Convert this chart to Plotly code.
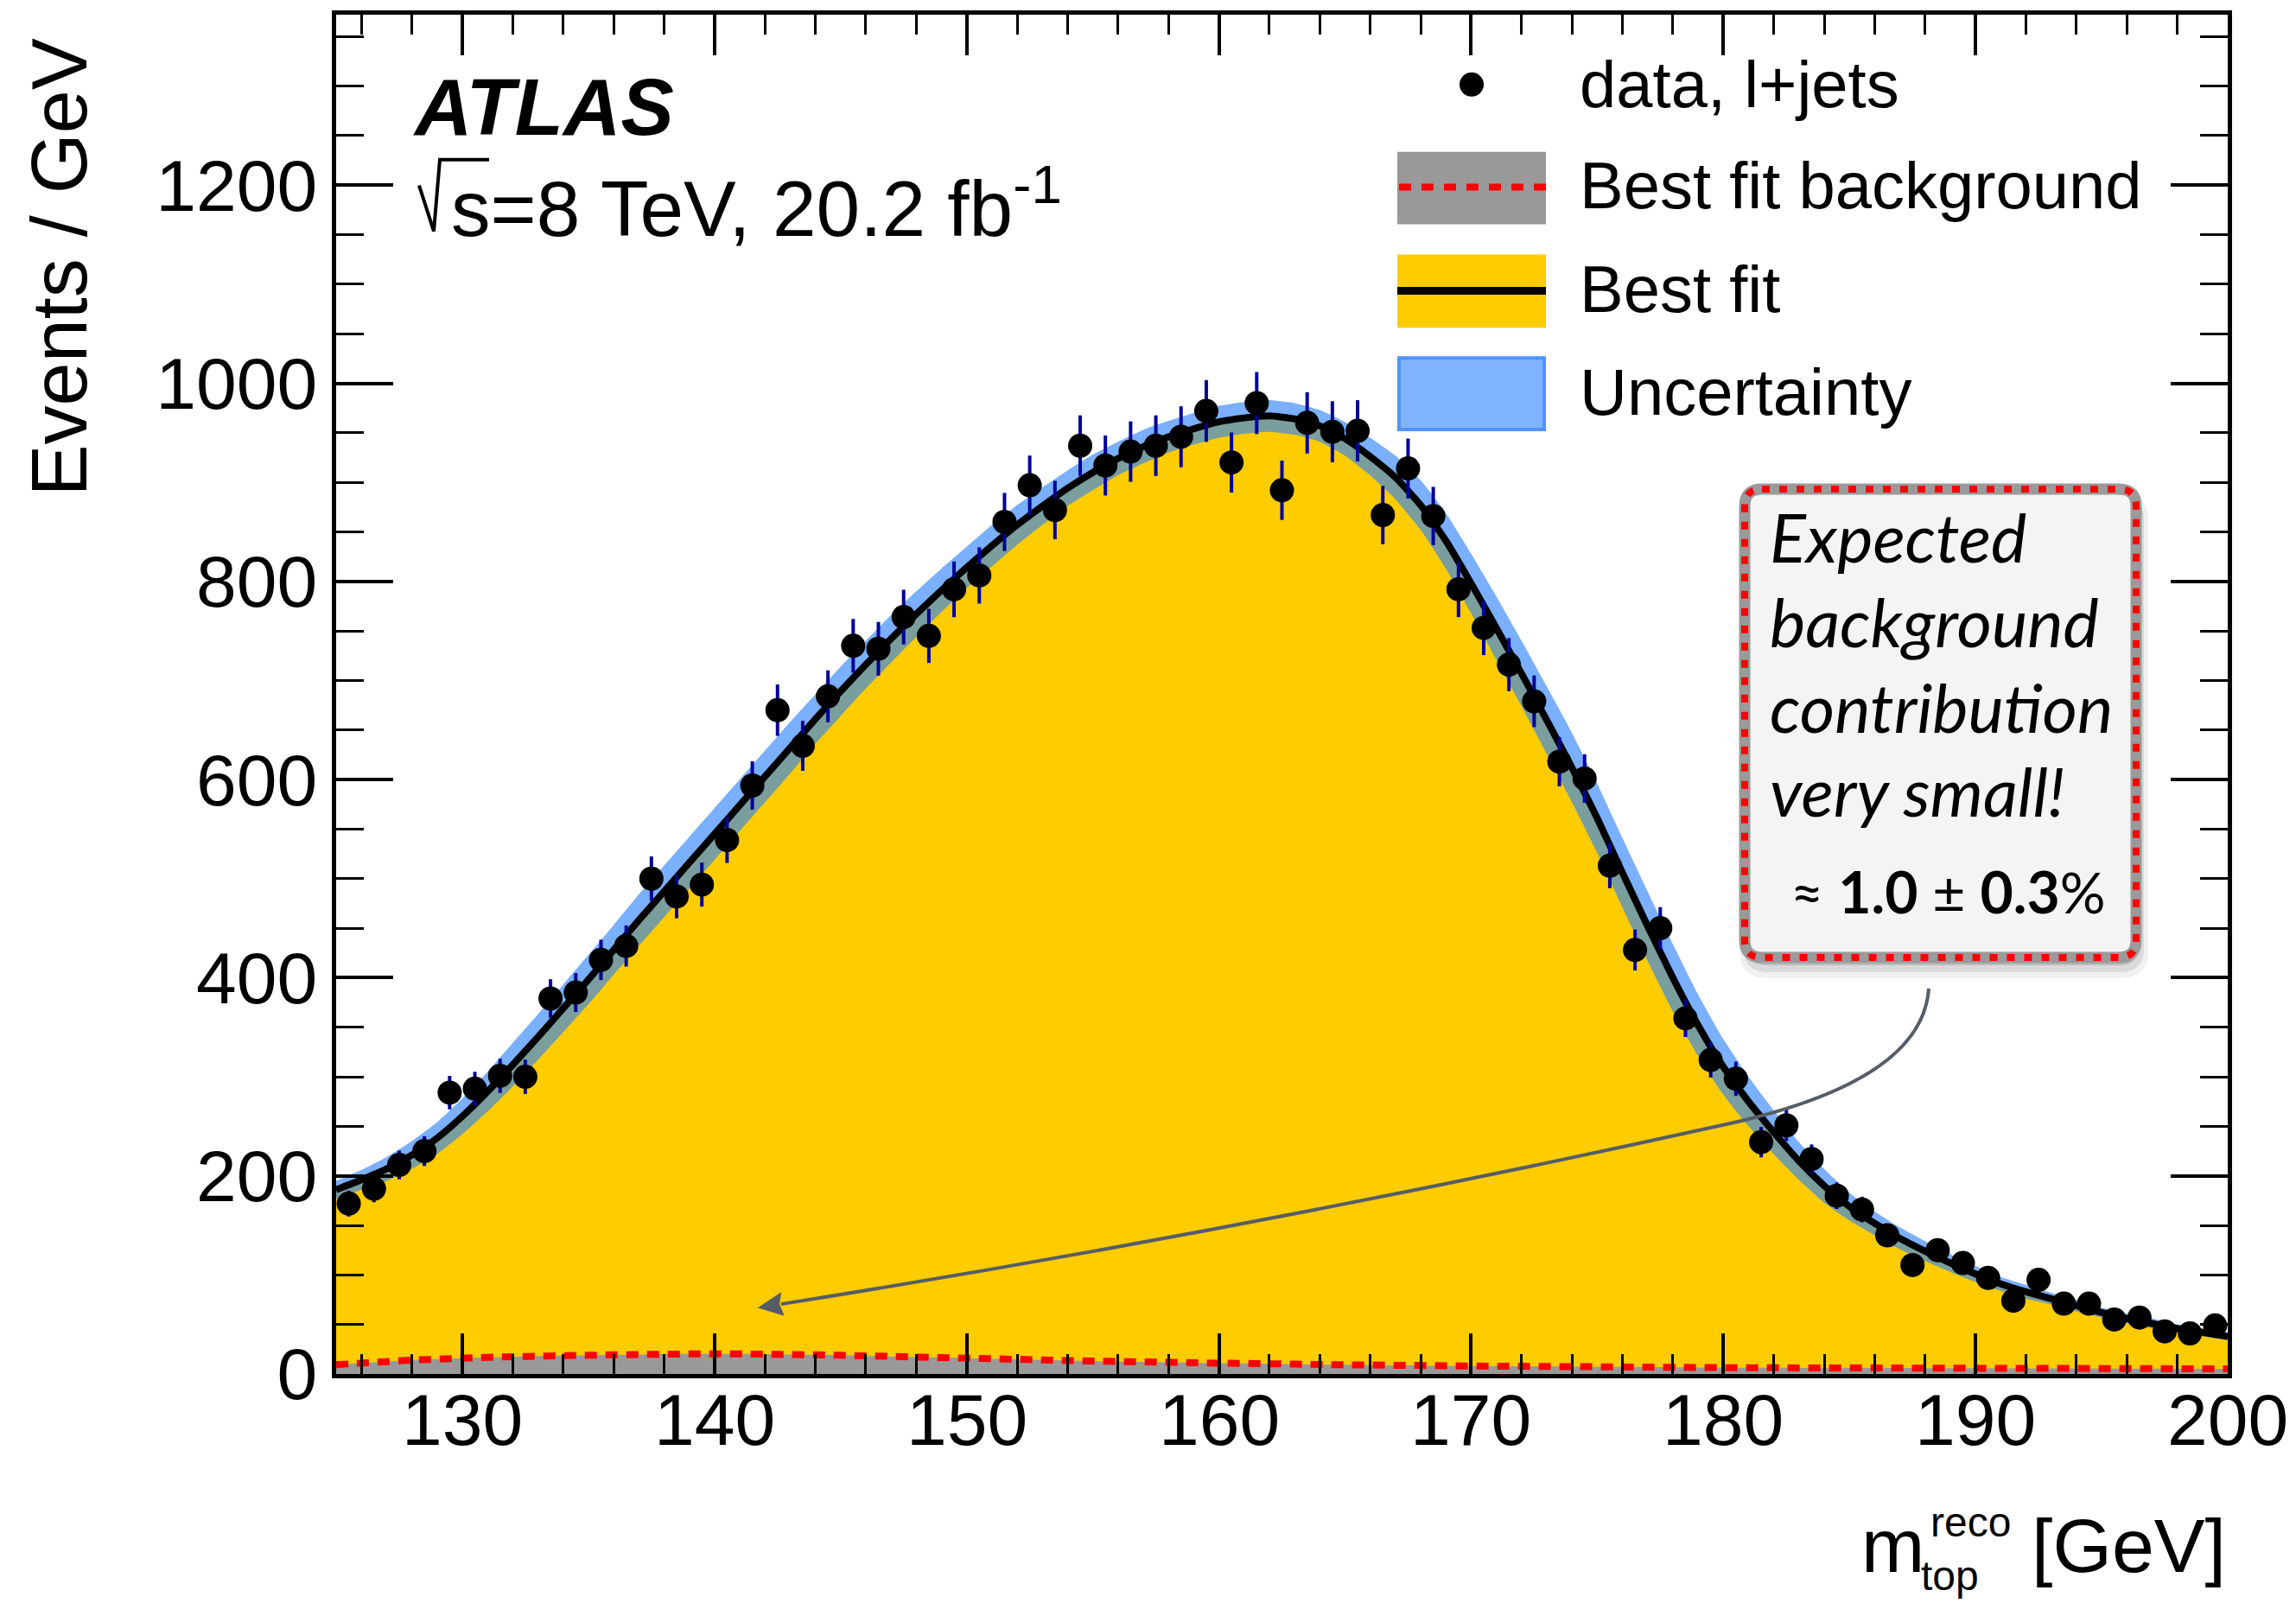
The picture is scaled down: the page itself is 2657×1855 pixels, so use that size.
import plotly.graph_objects as go

# ---------------------------------------------------------------- data
# reconstructed top-quark mass, 1 GeV bins from 125 to 200 GeV
bin_low = 125.0
bin_width = 1.0
data_counts = [172, 187, 211, 225, 284, 288, 301, 300, 379, 385,
               418, 432, 500, 482, 494, 539, 594, 670, 634, 684,
               735, 732, 764, 745, 792, 806, 860, 897, 872, 937,
               917, 931, 937, 946, 972, 920, 980, 892, 960, 951,
               952, 867, 914, 866, 792, 753, 716, 679, 618, 601,
               513, 428, 450, 359, 317, 298, 234, 251, 217, 180,
               166, 140, 110, 125, 112, 97, 74, 95, 71, 71,
               55, 57, 43, 41, 49]
data_errors = [13.1, 13.7, 14.5, 15.0, 16.9, 17.0, 17.3, 17.3, 19.5, 19.6,
               20.4, 20.8, 22.4, 22.0, 22.2, 23.2, 24.4, 25.9, 25.2, 26.2,
               27.1, 27.1, 27.6, 27.3, 28.1, 28.4, 29.3, 30.0, 29.5, 30.6,
               30.3, 30.5, 30.6, 30.8, 31.2, 30.3, 31.3, 29.9, 31.0, 30.8,
               30.9, 29.4, 30.2, 29.4, 28.1, 27.4, 26.8, 26.1, 24.9, 24.5,
               22.6, 20.7, 21.2, 18.9, 17.8, 17.3, 15.3, 15.8, 14.7, 13.4,
               12.9, 11.8, 10.5, 11.2, 10.6, 9.8, 8.6, 9.7, 8.4, 8.4,
               7.4, 7.5, 6.6, 6.4, 7.0]

# best-fit template (signal + background), sampled every GeV
fit_mass = list(range(125, 201))
fit_total = [186, 196, 207, 221, 238, 260, 285, 312, 340, 369,
             398, 428, 458, 487, 516, 545, 574, 603, 632, 661,
             689, 716, 742, 767, 791, 814, 836, 857, 876, 894,
             910, 924, 936, 946, 954, 961, 965, 967, 964, 957,
             944, 926, 905, 877, 841, 798, 753, 707, 660, 612,
             561, 506, 452, 400, 352, 310, 275, 244, 215, 190,
             169, 152, 137, 124, 112, 101, 91, 83, 76, 69,
             62, 56, 51, 46, 42, 38]
fit_uncertainty = [9, 10, 12, 14, 16, 18, 20, 22, 23, 24,
                   25, 25, 26, 26, 26, 26, 26, 26, 26, 25,
                   25, 24, 24, 23, 22, 21, 21, 20, 19, 18,
                   18, 17, 17, 16, 16, 16, 16, 16, 16, 16,
                   17, 19, 22, 25, 28, 30, 32, 33, 34, 35,
                   35, 35, 35, 34, 31, 28, 25, 22, 19, 17,
                   14, 12, 11, 10, 9, 8, 7, 7, 6, 6,
                   5, 5, 5, 4, 4, 4]
fit_background = [9.3, 11.0, 12.5, 14.0, 15.0, 16.0, 16.8, 17.5, 18.0, 18.5,
                  18.9, 19.3, 19.7, 20.0, 20.2, 20.3, 20.2, 20.0, 19.6, 19.3,
                  18.9, 18.3, 17.7, 17.1, 16.5, 16.0, 15.4, 14.8, 14.2, 13.6,
                  13.0, 12.6, 12.2, 11.8, 11.4, 11.0, 10.7, 10.3, 10.0, 9.6,
                  9.3, 9.1, 8.8, 8.6, 8.3, 8.1, 7.9, 7.8, 7.6, 7.4,
                  7.3, 7.1, 6.9, 6.8, 6.6, 6.4, 6.3, 6.3, 6.2, 6.2,
                  6.1, 6.0, 6.0, 5.9, 5.9, 5.8, 5.7, 5.7, 5.6, 5.6,
                  5.5, 5.4, 5.4, 5.3, 5.3, 5.2]

x_ticks = [130, 140, 150, 160, 170, 180, 190, 200]
y_ticks = [0, 200, 400, 600, 800, 1000, 1200]

bin_centers = [bin_low + bin_width * (i + 0.5) for i in range(len(data_counts))]
band_upper = [f + u for f, u in zip(fit_total, fit_uncertainty)]
band_lower = [f - u for f, u in zip(fit_total, fit_uncertainty)]

# ---------------------------------------------------------------- geometry
FIG_W, FIG_H = 2657, 1855
L, R, T, B = 389, 2578, 14, 1590
PW, PH = R - L, B - T

HELV = "Liberation Sans"
AVENIR = "Lato"


def P(x, y):
    """pixel position -> paper coordinates for shape paths"""
    return f"{(x - L) / PW:.5f},{(B - y) / PH:.5f}"


def px(x):
    return (x - L) / PW


def py(y):
    return (B - y) / PH


def label(x, y, text, size, anchor="left", family=HELV, color="black", angle=0):
    return dict(x=px(x), y=py(y), xref="paper", yref="paper", text=text,
                showarrow=False, xanchor=anchor, yanchor="middle",
                textangle=angle, font=dict(family=family, size=size, color=color))


def rect(x0, y0, x1, y1, **kw):
    return dict(type="rect", xref="paper", yref="paper",
                x0=px(x0), x1=px(x1), y0=py(y1), y1=py(y0), layer="above", **kw)


def rounded(x0, y0, x1, y1, r):
    return (f"M {P(x0 + r, y0)} L {P(x1 - r, y0)} Q {P(x1, y0)} {P(x1, y0 + r)} "
            f"L {P(x1, y1 - r)} Q {P(x1, y1)} {P(x1 - r, y1)} "
            f"L {P(x0 + r, y1)} Q {P(x0, y1)} {P(x0, y1 - r)} "
            f"L {P(x0, y0 + r)} Q {P(x0, y0)} {P(x0 + r, y0)} Z")


# ---------------------------------------------------------------- traces
fig = go.Figure()

fig.add_trace(go.Scatter(
    x=fit_mass, y=fit_total, mode="lines",
    line=dict(width=0, shape="spline", smoothing=0.5),
    fill="tozeroy", fillcolor="#ffcc00", hoverinfo="skip", showlegend=False))

fig.add_trace(go.Scatter(
    x=fit_mass, y=fit_background, mode="lines",
    line=dict(width=0, shape="spline"),
    fill="tozeroy", fillcolor="#999999", hoverinfo="skip", showlegend=False))

fig.add_trace(go.Scatter(
    x=fit_mass, y=fit_background, mode="lines",
    line=dict(width=8, color="#ff0000", dash="14px,10px", shape="spline"),
    hoverinfo="skip", showlegend=False))

fig.add_trace(go.Scatter(
    x=fit_mass, y=band_upper, mode="lines",
    line=dict(width=0, shape="spline", smoothing=0.5),
    hoverinfo="skip", showlegend=False))
fig.add_trace(go.Scatter(
    x=fit_mass, y=band_lower, mode="lines",
    line=dict(width=0, shape="spline", smoothing=0.5),
    fill="tonexty", fillcolor="rgba(41,128,255,0.62)",
    hoverinfo="skip", showlegend=False))

fig.add_trace(go.Scatter(
    x=fit_mass, y=fit_total, mode="lines",
    line=dict(width=8, color="black", shape="spline", smoothing=0.5),
    hoverinfo="skip", showlegend=False))

fig.add_trace(go.Scatter(
    x=bin_centers, y=data_counts, mode="markers",
    marker=dict(size=28, color="black"),
    error_y=dict(type="data", array=data_errors, visible=True,
                 color="#000099", thickness=4, width=0),
    showlegend=False))

# ---------------------------------------------------------------- decorations
shapes = []

# legend swatches
shapes.append(dict(type="circle", xref="paper", yref="paper",
                   x0=px(1689), x1=px(1717), y0=py(109), y1=py(81),
                   fillcolor="black", line=dict(width=0), layer="above"))
shapes.append(rect(1617, 173, 1789, 257, fillcolor="#999999", line=dict(width=0)))
shapes.append(dict(type="line", xref="paper", yref="paper",
                   x0=px(1619), x1=px(1789), y0=py(214), y1=py(214),
                   line=dict(color="#ff0000", width=8, dash="14px,12px"), layer="above"))
shapes.append(rect(1617, 292, 1789, 377, fillcolor="#ffcc00", line=dict(width=0)))
shapes.append(dict(type="line", xref="paper", yref="paper",
                   x0=px(1617), x1=px(1789), y0=py(334), y1=py(334),
                   line=dict(color="black", width=9), layer="above"))
shapes.append(rect(1619, 412, 1787, 495, fillcolor="#80b3ff",
                   line=dict(color="#4d94ff", width=4)))

# radical sign of sqrt(s)
shapes.append(dict(type="path", xref="paper", yref="paper",
                   path=f"M {P(485, 212)} L {P(502, 265)} L {P(509, 182)} L {P(566, 182)}",
                   line=dict(color="black", width=4), layer="above"))

# callout box: soft shadow, grey frame with red dashes
for dx, dy, grow, alpha in [(4, 14, 10, 0.06), (4, 12, 5, 0.09), (3, 9, 0, 0.14)]:
    shapes.append(dict(type="path", xref="paper", yref="paper",
                       path=rounded(2019 + dx - grow, 564 + dy - grow,
                                    2472 + dx + grow, 1107 + dy + grow, 22 + grow),
                       fillcolor=f"rgba(0,0,0,{alpha})", line=dict(width=0), layer="above"))
shapes.append(dict(type="path", xref="paper", yref="paper",
                   path=rounded(2019, 564, 2472, 1107, 20),
                   fillcolor="#f4f4f4", line=dict(color="#9a9a9a", width=13), layer="above"))
shapes.append(dict(type="path", xref="paper", yref="paper",
                   path=rounded(2019, 564, 2472, 1107, 20),
                   line=dict(color="#ff0000", width=8, dash="9px,11px"), layer="above"))

# curved pointer from the box down to the background band
arrow_col = "#575d66"
shapes.append(dict(type="path", xref="paper", yref="paper",
                   path=(f"M {P(2232, 1143)} Q {P(2225, 1250)} {P(2000, 1300)} "
                         f"Q {P(1450, 1422)} {P(904, 1509)}"),
                   line=dict(color=arrow_col, width=4), layer="above"))
shapes.append(dict(type="path", xref="paper", yref="paper",
                   path=f"M {P(879, 1513)} L {P(906, 1521)} L {P(901, 1509)} L {P(903, 1497)} Z",
                   fillcolor=arrow_col, line=dict(color=arrow_col, width=2), layer="above"))

annotations = [
    # experiment label
    label(476, 121, "<b><i>ATLAS</i></b>", 92),
    label(520, 232, "s=8 TeV, 20.2 fb<sup>-1</sup>", 91),
    # legend entries
    label(1826, 95, "data, l+jets", 76),
    label(1826, 212, "Best fit background", 76),
    label(1826, 332, "Best fit", 76),
    label(1826, 451, "Uncertainty", 76),
    # callout text
    label(2046, 619, "<i>Expected</i>", 78, family=AVENIR),
    label(2046, 717, "<i>background</i>", 78, family=AVENIR),
    label(2046, 817, "<i>contribution</i>", 78, family=AVENIR),
    label(2046, 914, "<i>very small!</i>", 78, family=AVENIR),
    label(2254, 1030, "≈ <b>1.0</b> ± <b>0.3</b>%", 66, anchor="center", family=AVENIR),
    # axis titles
    label(69, 307, "Events / GeV", 90, anchor="center", angle=-90),
    label(2152, 1789, "m", 88),
    label(2232, 1762, "reco", 48),
    label(2221, 1824, "top", 48),
    label(2578, 1789, "[GeV]", 88, anchor="right"),
]

# x tick labels placed on the axis scale, just under the frame
for v in x_ticks:
    annotations.append(dict(x=v, y=py(1643), xref="x", yref="paper", text=str(v),
                            showarrow=False, xanchor="center", yanchor="middle",
                            font=dict(family=HELV, size=84, color="black")))

axis_common = dict(
    showgrid=False, zeroline=False, showline=True, linecolor="black",
    linewidth=5, mirror="ticks", ticks="inside", tickcolor="black",
    tickfont=dict(family=HELV, size=84, color="black"),
)

fig.update_layout(
    width=FIG_W, height=FIG_H,
    margin=dict(l=L, r=FIG_W - R, t=T, b=FIG_H - B, pad=0),
    paper_bgcolor="white", plot_bgcolor="white",
    showlegend=False,
    xaxis=dict(range=[125, 200], tickvals=x_ticks, showticklabels=False,
               ticklen=47, tickwidth=4,
               minor=dict(ticks="inside", ticklen=23, tickwidth=3, dtick=2,
                          tick0=126, tickcolor="black"),
               **axis_common),
    yaxis=dict(range=[0, 1372], tickvals=y_ticks, ticklen=66, tickwidth=4,
               minor=dict(ticks="inside", ticklen=32, tickwidth=3, dtick=50,
                          tick0=0, tickcolor="black"),
               **axis_common),
    shapes=shapes,
    annotations=annotations,
)

fig.write_html("out.html")
